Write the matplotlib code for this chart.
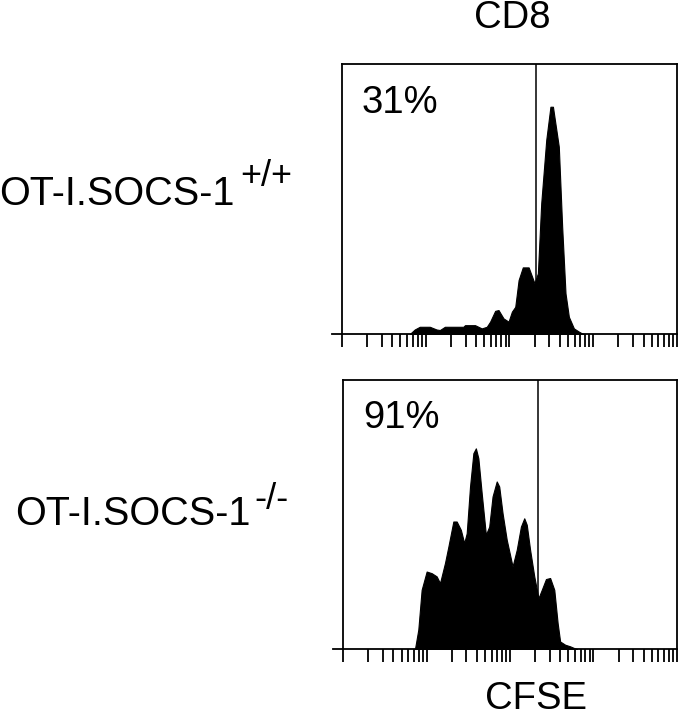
import numpy as np
import matplotlib
matplotlib.use('Agg')
import matplotlib.pyplot as plt

plt.rcParams['font.family'] = ['Liberation Sans', 'DejaVu Sans']

# CFSE histograms, x in log10 decades (0..4), y in % of axis height
wt_log_cfse = [0.81, 0.87, 0.93, 1.05, 1.13, 1.17, 1.23, 1.45, 1.47, 1.59, 1.67, 1.73, 1.77,
               1.83, 1.87, 1.93, 1.99, 2.03, 2.07, 2.11, 2.16, 2.23, 2.30, 2.34, 2.38, 2.44,
               2.49, 2.52, 2.59, 2.63, 2.67, 2.71, 2.77, 2.83, 2.87, 2.90]
wt_counts = [0, 1.7, 2.7, 2.7, 1.7, 1.5, 2.7, 2.7, 3.3, 3.3, 2.1, 2.7, 4.6,
             8.6, 8.9, 5.8, 4.6, 8.3, 10.1, 20, 24.7, 24.7, 18.8, 22.5, 48.4, 71.9,
             84.2, 84.2, 69.4, 39.8, 15.1, 6.4, 2.1, 0.9, 0.2, 0]

ko_log_cfse = [0.86, 0.90, 0.94, 1.00, 1.06, 1.12, 1.16, 1.22, 1.26, 1.32, 1.36, 1.41, 1.45,
               1.48, 1.52, 1.56, 1.59, 1.62, 1.66, 1.71, 1.75, 1.79, 1.84, 1.87, 1.91, 1.96,
               2.03, 2.08, 2.13, 2.17, 2.20, 2.24, 2.29, 2.34, 2.38, 2.43, 2.48, 2.53, 2.57,
               2.60, 2.66, 2.72, 2.78, 2.80]
ko_counts = [0, 7.2, 22, 28.8, 28.2, 27, 24.5, 32, 38, 47.4, 47.4, 44.3, 39.4,
             43, 60.4, 72.8, 74.6, 70.9, 57.9, 42.5, 45.5, 56.7, 62.3, 60.4, 50.5, 40.6,
             30.7, 36.9, 45.5, 48.6, 46.2, 36.9, 27, 18.9, 22, 26, 26.4, 22, 9.7,
             2.8, 1.6, 1, 0.2, 0]

gates = [210, 218]
percents = ['31%', '91%']
row_labels = ['OT-I.SOCS-1', 'OT-I.SOCS-1']
row_sups = ['+/+', '-/-']

fig = plt.figure(figsize=(6.81, 7.2), dpi=100)
ax_top = fig.add_axes([0.502, 0.536, 0.492, 0.375])
ax_bot = fig.add_axes([0.504, 0.0986, 0.490, 0.3736])

data = [(wt_log_cfse, wt_counts), (ko_log_cfse, ko_counts)]
for ax, (xs, ys), gate, pct in zip([ax_top, ax_bot], data, gates, percents):
    x = 10 ** np.array(xs)
    ax.fill_between(x, 0, ys, color='black', linewidth=0.8, edgecolor='black')
    ax.set_xscale('log')
    ax.set_xlim(1, 1e4)
    ax.set_ylim(0, 100)
    ax.axvline(gate, color='black', lw=1.1)
    ax.set_yticks([])
    ax.tick_params(axis='x', which='both', direction='out', length=9, width=1.3,
                   labelbottom=False)
    for s in ax.spines.values():
        s.set_linewidth(1.3)
    # bottom axis line runs a little past the left edge
    ax.plot([-0.03, 0], [0, 0], transform=ax.transAxes, color='black', lw=1.3, clip_on=False)
    ax.text(0.06, 0.82, pct, transform=ax.transAxes, fontsize=27.5, va='baseline', ha='left')

fig.text(512 / 681, 1 - 28 / 720, 'CD8', fontsize=27.5, ha='center', va='baseline')
fig.text(536 / 681, 1 - 709 / 720, 'CFSE', fontsize=27.5, ha='center', va='baseline')

fig.text(-1 / 681, 1 - 205 / 720, row_labels[0], fontsize=28.5, va='baseline', ha='left')
fig.text(240 / 681, 1 - 186 / 720, row_sups[0], fontsize=26, va='baseline', ha='left')
fig.text(15 / 681, 1 - 525 / 720, row_labels[1], fontsize=28.5, va='baseline', ha='left')
fig.text(254 / 681, 1 - 509 / 720, row_sups[1], fontsize=26, va='baseline', ha='left')

fig.savefig('out.png', dpi=100)
